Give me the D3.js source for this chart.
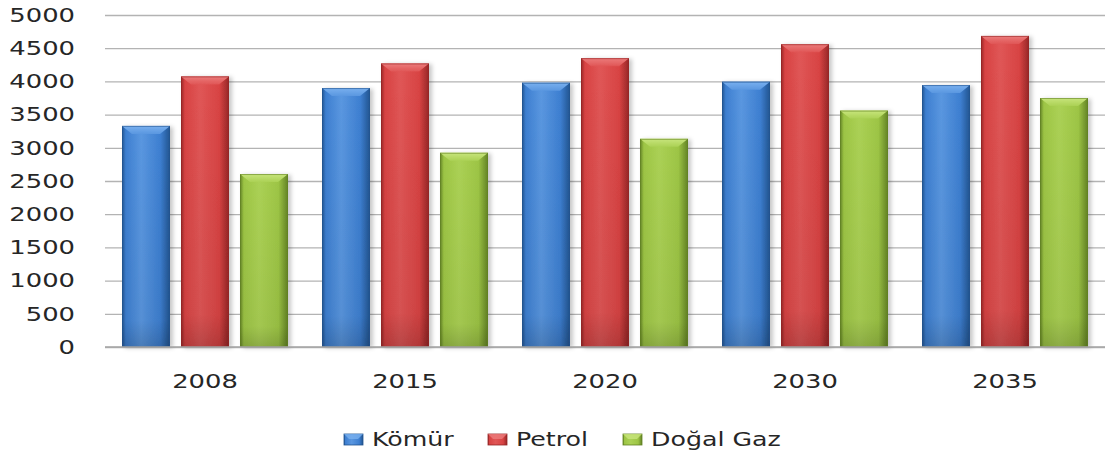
<!DOCTYPE html>
<html><head><meta charset="utf-8">
<script src="https://cdn.jsdelivr.net/npm/d3@7"></script>
<style>html,body{margin:0;padding:0;background:#fff;}svg{display:block;}</style>
</head><body>
<svg id="c" width="1106" height="457"></svg>
<script>
const categories = ["2008", "2015", "2020", "2030", "2035"];
const seriesNames = ["Kömür", "Petrol", "Doğal Gaz"];
const komur = [3330, 3900, 3980, 3995, 3945];
const petrol = [4075, 4270, 4350, 4560, 4685];
const dogalGaz = [2605, 2925, 3135, 3560, 3750];
const yTicks = [0, 500, 1000, 1500, 2000, 2500, 3000, 3500, 4000, 4500, 5000];
const seriesValues = [komur, petrol, dogalGaz];

const colors = [
  {base:"#3d7fd1", light:"#5a97e0", dark:"#22548f", top:"#79b0ef"},
  {base:"#d84343", light:"#e05656", dark:"#952626", top:"#ec7c7c"},
  {base:"#9dc545", light:"#abd155", dark:"#628224", top:"#c8e57c"}
];

const svg = d3.select("#c");
const FONT = "'DejaVu Sans', Verdana, sans-serif";
const SX = 1.36;

const x0 = d3.scaleBand().domain(categories).range([105, 1105]).paddingInner(0.17).paddingOuter(0.085);
const x1 = d3.scaleBand().domain(d3.range(3)).range([0, x0.bandwidth()]).paddingInner(0.1864).paddingOuter(0);
const y = d3.scaleLinear().domain([0, 5000]).range([347, 15]);

const defs = svg.append("defs");
colors.forEach((c, i) => {
  const g = defs.append("linearGradient").attr("id", "h" + i).attr("x1", 0).attr("x2", 1).attr("y1", 0).attr("y2", 0);
  g.append("stop").attr("offset", "0%").attr("stop-color", c.dark);
  g.append("stop").attr("offset", "8%").attr("stop-color", c.base);
  g.append("stop").attr("offset", "40%").attr("stop-color", c.light);
  g.append("stop").attr("offset", "80%").attr("stop-color", c.base);
  g.append("stop").attr("offset", "100%").attr("stop-color", c.dark);
  const t = defs.append("linearGradient").attr("id", "t" + i).attr("x1", 0).attr("x2", 0).attr("y1", 0).attr("y2", 1);
  t.append("stop").attr("offset", "0%").attr("stop-color", c.top);
  t.append("stop").attr("offset", "100%").attr("stop-color", c.light);
});
const v = defs.append("linearGradient").attr("id", "vshade").attr("x1", 0).attr("x2", 0).attr("y1", 0).attr("y2", 1);
v.append("stop").attr("offset", "0%").attr("stop-color", "#000").attr("stop-opacity", 0);
v.append("stop").attr("offset", "88%").attr("stop-color", "#000").attr("stop-opacity", 0.05);
v.append("stop").attr("offset", "100%").attr("stop-color", "#000").attr("stop-opacity", 0.18);
const f = defs.append("filter").attr("id", "sh").attr("x", "-20%").attr("y", "-10%").attr("width", "150%").attr("height", "130%");
f.append("feDropShadow").attr("dx", 3).attr("dy", 1).attr("stdDeviation", 2).attr("flood-color", "#000").attr("flood-opacity", 0.22);

// gridlines
const grid = svg.append("g").attr("transform", "translate(105,0)")
  .call(d3.axisLeft(y).tickValues(yTicks).tickSize(-1000).tickFormat(""));
grid.select(".domain").remove();
grid.selectAll(".tick line").attr("stroke", "#b3b3b3").attr("stroke-width", 1.3);

// y tick labels
svg.append("g").selectAll("text").data(yTicks).join("text")
  .attr("transform", d => `translate(75,${y(d)}) scale(${SX},1)`)
  .attr("text-anchor", "end").attr("dy", "0.36em")
  .attr("font-family", FONT).attr("font-size", 19).attr("fill", "#262626")
  .text(d => d);

// bars
const groups = svg.append("g").selectAll("g").data(categories).join("g")
  .attr("transform", d => `translate(${x0(d)},0)`);
groups.each(function(cat, ci) {
  const g = d3.select(this);
  seriesValues.forEach((vals, si) => {
    const bx = x1(si), bw = x1.bandwidth();
    const by = y(vals[ci]), bh = y(0) - y(vals[ci]);
    const bar = g.append("g").attr("filter", "url(#sh)");
    bar.append("rect").attr("x", bx).attr("y", by).attr("width", bw).attr("height", bh)
      .attr("fill", `url(#h${si})`);
    bar.append("rect").attr("x", bx).attr("y", by).attr("width", bw).attr("height", bh)
      .attr("fill", "url(#vshade)");
    const b = 8, bi = 10;
    bar.append("polygon")
      .attr("points", `${bx},${by} ${bx + bw},${by} ${bx + bw - bi},${by + b} ${bx + bi},${by + b}`)
      .attr("fill", `url(#t${si})`);
    bar.append("rect").attr("x", bx + 0.5).attr("y", by + 0.5).attr("width", bw - 1).attr("height", bh - 1)
      .attr("fill", "none").attr("stroke", colors[si].dark).attr("stroke-opacity", 0.6).attr("stroke-width", 1);
  });
});

// baseline
svg.append("line").attr("x1", 105).attr("x2", 1105).attr("y1", y(0)).attr("y2", y(0))
  .attr("stroke", "#a6a6a6").attr("stroke-width", 1.5);

// category labels
svg.append("g").selectAll("text").data(categories).join("text")
  .attr("transform", d => `translate(${x0(d) + x0.bandwidth() / 2},388) scale(${SX},1)`)
  .attr("text-anchor", "middle")
  .attr("font-family", FONT).attr("font-size", 19).attr("fill", "#262626")
  .text(d => d);

// legend
const legendX = [344, 488, 623];
const leg = svg.append("g").selectAll("g").data(seriesNames).join("g")
  .attr("transform", (d, i) => `translate(${legendX[i]},0)`);
leg.append("rect").attr("x", 0).attr("y", 434).attr("width", 19).attr("height", 11)
  .attr("fill", (d, i) => `url(#h${i})`).attr("stroke", (d, i) => colors[i].dark).attr("stroke-width", 0.8);
leg.append("polygon").attr("points", "0,434 19,434 14,439 5,439").attr("fill", (d, i) => colors[i].top).attr("opacity", 0.8);
leg.append("text")
  .attr("transform", `translate(28,446) scale(1.33,1)`)
  .attr("font-family", FONT).attr("font-size", 19).attr("fill", "#262626")
  .text(d => d);
</script>
</body></html>
